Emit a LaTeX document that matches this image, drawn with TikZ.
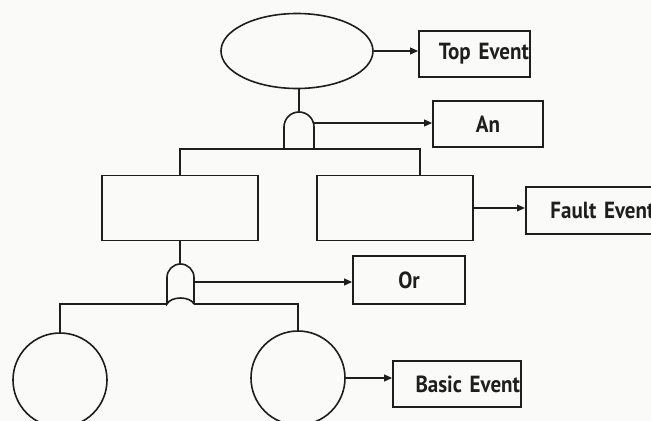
\documentclass[tikz,border=0pt]{standalone}
\usepackage{fontspec}
\setmainfont{PT Sans}[FakeStretch=0.9]
\usetikzlibrary{arrows.meta,shapes.geometric}
\definecolor{ink}{RGB}{30,30,30}
\definecolor{paper}{RGB}{250,250,248}
\begin{document}
\begin{tikzpicture}[x=0.75pt,y=-0.75pt,
  line width=1.2pt, draw=ink,
  wire/.style={draw=ink, line width=1.2pt},
  arrowline/.style={wire, -{Triangle[length=6pt,width=5pt]}},
  eventbox/.style={draw=ink, line width=1.2pt, rectangle, inner sep=0pt,
    font=\fontsize{17.5}{19}\selectfont\bfseries, text=ink},
  gatestyle/.style={draw=ink, line width=1.2pt, fill=paper},
  basic/.style={draw=ink, line width=1.2pt, circle, minimum size=70.5pt, inner sep=0pt}]
\fill[paper] (0,0) rectangle (651,421);
\useasboundingbox (0,0) rectangle (651,421);

% top event
\node[draw=ink, line width=1.2pt, ellipse, minimum width=114pt, minimum height=56.25pt, inner sep=0pt] (top) at (297,51) {};
\node[eventbox, minimum width=83.25pt, minimum height=34.5pt, text width=81.5pt, align=right] (tebox) at (474.5,54) {Top Event};

% AND gate
\coordinate (andtop) at (299,112);
\coordinate (andout) at (314,123);
\coordinate (andbot) at (299,149);
\draw[gatestyle] (284,149) -- (284,127) arc[start angle=180, end angle=360, radius=15] -- (314,149) -- cycle;
\node[eventbox, minimum width=82.5pt, minimum height=34.5pt] (anbox) at (488,124) {An};

% intermediate events
\node[eventbox, minimum width=117pt, minimum height=48.75pt] (lbox) at (180,208) {};
\node[eventbox, minimum width=117pt, minimum height=48.75pt] (rbox) at (395,208) {};
\coordinate (rdrop) at (420,175);
\node[eventbox, anchor=west, minimum width=105pt, minimum height=35.25pt, text width=105pt, align=left] (fbox) at (525,210.5) {\hspace*{18.5pt}Fault Event};

% OR gate
\coordinate (ortop) at (180.5,264);
\coordinate (orout) at (194,282);
\coordinate (orbl) at (167,304);
\coordinate (orbr) at (194,304);
\draw[gatestyle] (orbr) -- (194,277.5) arc[start angle=360, end angle=180, radius=13.5] -- (orbl)
  .. controls (171,296) and (190,296) .. (orbr);
\node[eventbox, minimum width=84pt, minimum height=36pt] (orbox) at (409,280) {Or};

% basic events
\node[basic] (lc) at (60,380) {};
\node[basic] (rc) at (298,378) {};
\node[eventbox, minimum width=96pt, minimum height=34.5pt, text width=94.5pt, align=right] (bbox) at (457,384) {Basic Event};

% connectors
\draw[wire] (andtop) -- (andtop |- top.south);
\draw[wire] (lbox.north) |- (andbot) -| (rdrop);
\draw[wire] (lbox.south) -- (lbox.south |- ortop);
\draw[wire] (lc.north) |- (orbl);
\draw[wire] (orbr) -| (rc.north);

\draw[arrowline] (top.east) -- (top.east -| tebox.west);
\draw[arrowline] (andout) -- (andout -| anbox.west);
\draw[arrowline] (rbox.east) -- (rbox.east -| fbox.west);
\draw[arrowline] (orout) -- (orout -| orbox.west);
\draw[arrowline] (rc.east) -- (rc.east -| bbox.west);
\end{tikzpicture}
\end{document}
